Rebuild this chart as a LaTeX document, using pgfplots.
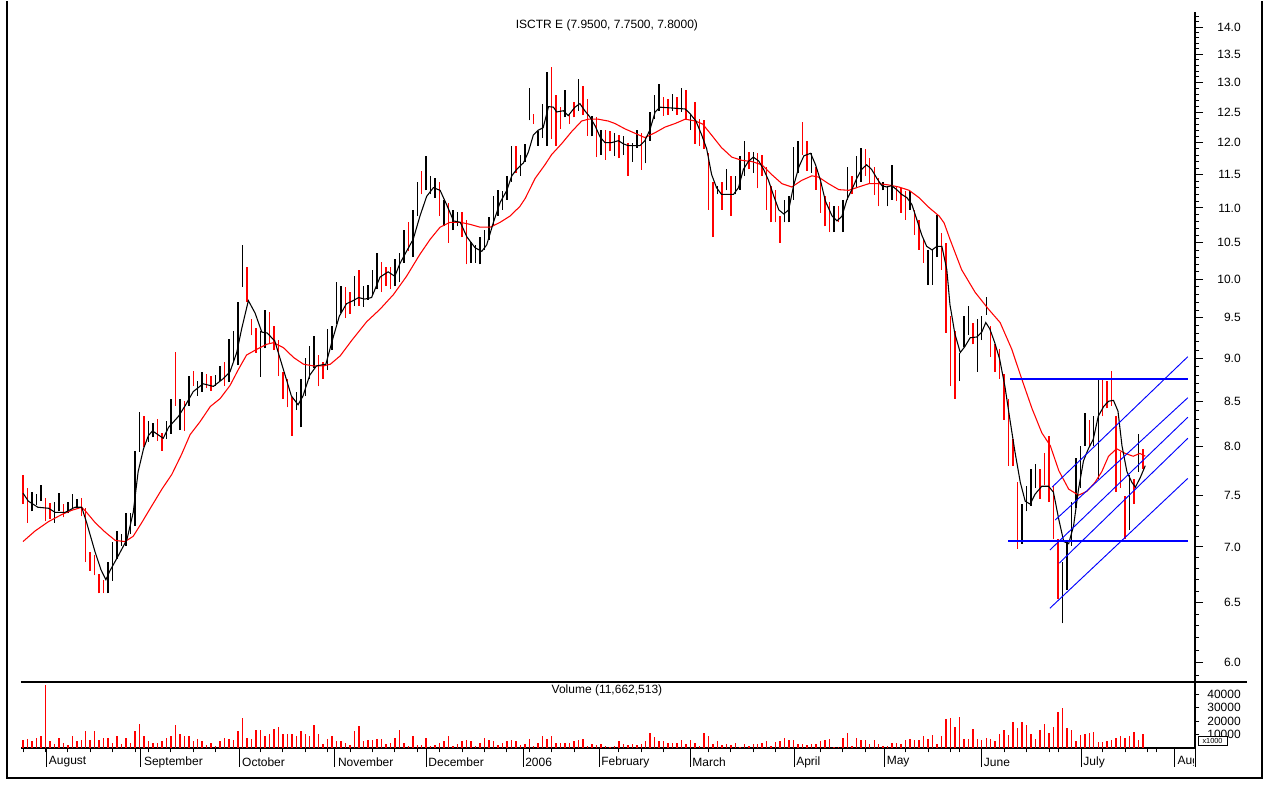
\documentclass[border=0pt]{standalone}
\usepackage{fontspec}
\setmainfont{Liberation Sans}
\usepackage{pgfplots}
\pgfplotsset{compat=1.18}
\usepackage{pgfplotstable}
\definecolor{tlblue}{RGB}{0,0,255}

\pgfplotstableread{
i lo hi c
0 7.41 7.71 1
1 7.23 7.57 1
2 7.34 7.53 0
3 7.40 7.51 0
4 7.44 7.60 0
5 7.25 7.47 1
6 7.27 7.42 1
7 7.23 7.43 0
8 7.34 7.52 0
9 7.28 7.41 1
10 7.32 7.43 0
11 7.37 7.51 0
12 7.38 7.46 0
13 7.29 7.47 1
14 6.86 7.37 1
15 6.78 6.95 1
16 6.74 6.92 1
17 6.58 6.75 1
18 6.58 6.70 1
19 6.58 6.86 0
20 6.69 7.05 0
21 6.89 7.15 0
22 7.01 7.12 0
23 7.01 7.32 0
24 7.12 7.32 0
25 7.20 7.96 0
26 7.95 8.38 0
27 8.00 8.33 1
28 8.05 8.28 0
29 8.10 8.26 0
30 8.06 8.30 1
31 7.96 8.15 1
32 8.08 8.28 0
33 8.14 8.53 0
34 8.45 9.08 1
35 8.18 8.53 0
36 8.17 8.50 1
37 8.45 8.79 0
38 8.67 8.85 1
39 8.56 8.73 0
40 8.61 8.84 0
41 8.65 8.81 1
42 8.62 8.79 1
43 8.68 8.80 0
44 8.73 8.91 0
45 8.68 8.96 1
46 8.72 9.24 0
47 8.96 9.34 0
48 8.92 9.70 0
49 9.90 10.47 0
50 9.70 10.17 1
51 9.28 9.49 1
52 9.07 9.37 1
53 8.78 9.33 0
54 9.12 9.60 0
55 9.18 9.57 1
56 9.10 9.40 1
57 8.79 9.22 1
58 8.53 8.84 1
59 8.43 8.76 1
60 8.12 8.55 1
61 8.40 8.60 0
62 8.21 8.76 0
63 8.56 9.00 0
64 8.76 9.15 0
65 8.88 9.27 0
66 8.67 9.04 1
67 8.76 8.96 1
68 8.86 9.36 0
69 9.10 9.40 0
70 9.42 9.97 0
71 9.56 9.91 0
72 9.50 9.90 1
73 9.55 9.83 1
74 9.65 10.04 0
75 9.65 10.13 1
76 9.64 9.91 0
77 9.73 9.92 0
78 9.78 10.13 0
79 9.87 10.36 0
80 9.83 10.24 1
81 9.91 10.17 1
82 9.87 10.17 1
83 9.91 10.27 0
84 9.96 10.36 0
85 10.22 10.68 0
86 10.38 10.79 1
87 10.30 10.97 0
88 10.88 11.39 0
89 11.20 11.56 1
90 11.26 11.79 0
91 11.20 11.48 0
92 11.15 11.45 0
93 10.88 11.39 1
94 10.73 11.12 0
95 10.50 11.07 1
96 10.68 10.97 0
97 10.73 10.94 0
98 10.58 10.94 1
99 10.20 10.83 1
100 10.22 10.51 0
101 10.22 10.47 0
102 10.20 10.58 0
103 10.40 10.68 0
104 10.54 10.87 0
105 10.73 11.17 0
106 10.88 11.27 0
107 10.97 11.25 0
108 11.12 11.48 0
109 11.39 11.95 0
110 11.53 11.95 1
111 11.48 11.81 0
112 11.70 11.98 0
113 12.36 12.90 0
114 12.30 12.47 1
115 11.95 12.19 0
116 12.07 12.63 0
117 11.95 13.18 0
118 12.06 13.27 1
119 11.95 12.78 1
120 12.22 12.58 1
121 12.41 12.87 0
122 12.30 12.47 1
123 12.41 12.66 1
124 12.52 13.06 0
125 12.45 12.94 1
126 12.11 12.72 1
127 12.10 12.44 0
128 11.77 12.41 1
129 11.81 12.20 0
130 11.73 12.20 1
131 11.86 12.19 1
132 11.79 12.15 0
133 11.75 12.12 1
134 11.80 12.10 0
135 11.48 12.00 1
136 11.70 12.00 0
137 11.92 12.20 0
138 11.57 12.15 1
139 11.67 12.08 0
140 12.03 12.50 0
141 12.38 12.78 0
142 12.52 12.97 0
143 12.44 12.75 1
144 12.45 12.72 1
145 12.52 12.80 0
146 12.45 12.75 1
147 12.50 12.90 0
148 12.38 12.87 1
149 12.20 12.47 0
150 11.98 12.66 1
151 11.95 12.38 1
152 11.90 12.36 1
153 10.97 11.83 1
154 10.58 11.39 1
155 11.20 11.33 0
156 10.97 11.39 1
157 11.26 11.58 0
158 10.88 11.48 1
159 11.20 11.48 0
160 11.27 11.79 0
161 11.48 12.03 0
162 11.58 11.85 1
163 11.53 11.85 0
164 11.29 11.83 1
165 11.48 11.81 1
166 10.97 11.62 1
167 10.79 11.33 1
168 10.79 11.26 1
169 10.50 10.88 1
170 10.79 11.12 0
171 10.79 11.17 0
172 11.12 11.93 0
173 11.53 12.03 0
174 11.81 12.33 1
175 11.56 12.03 1
176 11.53 11.83 0
177 11.27 11.62 1
178 10.93 11.39 1
179 10.73 11.17 1
180 10.65 11.08 1
181 10.65 11.02 0
182 10.79 11.02 1
183 10.65 11.12 0
184 11.12 11.62 0
185 11.20 11.48 1
186 11.29 11.79 0
187 11.39 11.92 0
188 11.48 11.90 1
189 11.36 11.75 1
190 11.19 11.61 1
191 11.02 11.44 1
192 11.26 11.39 0
193 11.02 11.33 0
194 11.12 11.65 0
195 11.10 11.33 1
196 10.93 11.29 1
197 10.83 11.25 1
198 10.97 11.25 0
199 10.61 10.97 1
200 10.40 10.83 1
201 10.22 10.55 1
202 9.93 10.40 0
203 9.93 10.40 0
204 10.30 10.90 0
205 10.13 10.64 1
206 9.31 10.50 1
207 8.67 9.52 1
208 8.53 9.33 1
209 8.73 9.07 0
210 9.14 9.52 0
211 9.29 9.65 0
212 9.17 9.43 1
213 8.84 9.49 0
214 9.22 9.52 0
215 9.54 9.77 0
216 9.02 9.40 1
217 8.84 9.17 1
218 8.76 9.11 1
219 8.29 8.82 1
220 7.80 8.53 1
221 7.80 8.08 1
222 6.98 7.63 1
223 7.03 7.41 0
224 7.34 7.59 0
225 7.39 7.77 0
226 7.57 7.82 0
227 7.46 7.77 1
228 7.60 7.93 1
229 7.43 8.12 1
230 7.07 7.59 1
231 6.53 7.07 1
232 6.32 6.86 0
233 6.61 7.05 0
234 7.01 7.43 0
235 7.37 7.88 0
236 7.57 8.01 0
237 8.01 8.37 0
238 8.01 8.29 1
239 8.01 8.33 0
240 7.66 8.75 0
241 8.33 8.75 1
242 8.42 8.73 1
243 8.45 8.85 1
244 7.53 8.33 1
245 7.57 7.95 1
246 7.07 7.49 1
247 7.16 7.70 0
248 7.41 7.66 1
249 7.74 8.14 0
250 7.77 7.98 1
}\bars

\pgfplotstableread{
i v
0 5750
1 6500
2 5000
3 7500
4 9250
5 46500
6 5000
7 3250
8 7500
9 4000
10 2000
11 8750
12 5000
13 5750
14 12500
15 5750
16 12500
17 5750
18 7500
19 7500
20 4000
21 8750
22 3250
23 7500
24 4000
25 12500
26 17750
27 9250
28 5000
29 4000
30 4000
31 5000
32 7500
33 9250
34 17000
35 10750
36 8750
37 8750
38 5000
39 6500
40 5000
41 2000
42 4000
43 1250
44 5000
45 7500
46 6500
47 5750
48 12500
49 22500
50 7500
51 6500
52 13250
53 13250
54 8750
55 10750
56 14250
57 15250
58 10750
59 10250
60 10750
61 8750
62 12500
63 10750
64 9250
65 17000
66 10750
67 3250
68 6500
69 9250
70 5000
71 5000
72 4000
73 2000
74 12500
75 16250
76 5000
77 5750
78 5750
79 6500
80 6500
81 3250
82 4000
83 7500
84 13250
85 4000
86 1500
87 9250
88 2000
89 2000
90 7500
91 1250
92 2000
93 4000
94 5000
95 8750
96 1250
97 2750
98 5000
99 5750
100 5000
101 1250
102 4000
103 7500
104 5750
105 5000
106 2000
107 4000
108 5000
109 5750
110 5000
111 2000
112 3250
113 6500
114 1250
115 4000
116 8750
117 6500
118 8750
119 4000
120 4000
121 4000
122 4000
123 5000
124 5750
125 6500
126 1250
127 3250
128 2000
129 2750
130 1250
131 750
132 1500
133 5000
134 2750
135 2000
136 3250
137 2500
138 2750
139 5000
140 11250
141 8250
142 5000
143 5000
144 4000
145 4000
146 4000
147 5750
148 3250
149 5750
150 4000
151 1250
152 11250
153 9250
154 3250
155 5000
156 2000
157 3250
158 2000
159 4000
160 1000
161 2750
162 1250
163 2750
164 2750
165 4000
166 5000
167 1250
168 4500
169 5000
170 7500
171 5750
172 5750
173 2750
174 3250
175 2000
176 2750
177 2750
178 5000
179 5750
180 7000
181 750
182 750
183 7500
184 11250
185 1250
186 7500
187 5750
188 5750
189 2750
190 5750
191 2750
192 1500
193 1250
194 4000
195 4000
196 2750
197 5750
198 6500
199 5750
200 5750
201 8750
202 7000
203 9500
204 3250
205 8750
206 21250
207 22500
208 15750
209 23250
210 7000
211 7000
212 13750
213 7000
214 5750
215 7500
216 7000
217 5000
218 10250
219 13250
220 9500
221 19000
222 15000
223 19000
224 17000
225 10750
226 7000
227 13250
228 17750
229 11500
230 15250
231 27000
232 29500
233 14500
234 13250
235 5000
236 9500
237 10750
238 11250
239 12000
240 4500
241 4500
242 5000
243 5750
244 7500
245 8750
246 7500
247 8750
248 12000
249 5750
250 10250
}\vol

\begin{document}
\begin{tikzpicture}
\begin{scope}[x=0.75pt,y=0.75pt]
\useasboundingbox (-21,-103) rectangle (1258,682);
\end{scope}

\begin{axis}[
  at={(0pt,0pt)}, anchor=south west, scale only axis,
  width=880.5pt, height=502.5pt,
  xmin=-0.45, xmax=261.6,
  ymode=log, ymin=5.846, ymax=14.283,
  axis x line=none, axis y line*=right,
  axis line style={-, line width=0.8pt, black},
  ytick={6,6.5,7,7.5,8,8.5,9,9.5,10,10.5,11,11.5,12,12.5,13,13.5,14},
  yticklabels={},
  minor ytick={5.9,6.1,6.2,6.3,6.4,6.6,6.7,6.8,6.9,7.1,7.2,7.3,7.4,7.6,7.7,7.8,7.9,8.1,8.2,8.3,8.4,8.6,8.7,8.8,8.9,9.1,9.2,9.3,9.4,9.6,9.7,9.8,9.9,10.1,10.2,10.3,10.4,10.6,10.7,10.8,10.9,11.1,11.2,11.3,11.4,11.6,11.7,11.8,11.9,12.1,12.2,12.3,12.4,12.6,12.7,12.8,12.9,13.1,13.2,13.3,13.4,13.6,13.7,13.8,13.9,14.1,14.2},
  tick align=outside, major tick length=6pt, minor tick length=3pt,
  tick style={black, line width=0.6pt},
  clip=false,
]
% up bars (black) and down bars (red)
\addplot[draw=none, mark=none, forget plot,
  error bars/.cd, y dir=plus, y explicit, error mark=none,
  error bar style={draw=black, line width=1.1pt}]
  table[x=i, y=lo, y error expr=\thisrow{hi}-\thisrow{lo},
        restrict expr to domain={\thisrow{c}}{0:0}] {\bars};
\addplot[draw=none, mark=none, forget plot,
  error bars/.cd, y dir=plus, y explicit, error mark=none,
  error bar style={draw=red, line width=1.1pt}]
  table[x=i, y=lo, y error expr=\thisrow{hi}-\thisrow{lo},
        restrict expr to domain={\thisrow{c}}{1:1}] {\bars};

% long moving average (red)
\addplot[red, line width=0.8pt, mark=none] coordinates {
(0,7.05)(2.7,7.15)(5.7,7.24)(8.7,7.31)(10.9,7.35)(13.1,7.38)(14.2,7.33)(16.1,7.23)(18.3,7.14)(20.6,7.06)(22.8,7.05)(24.6,7.10)(26.5,7.23)(28.7,7.39)(31.0,7.56)(33.2,7.71)(35.4,7.92)(37.3,8.13)(39.5,8.27)(41.8,8.44)(44.0,8.53)(46.2,8.68)(48.1,8.87)(49.9,9.04)(52.2,9.11)(54.4,9.17)(55.9,9.19)(58.1,9.13)(60.4,9.01)(62.6,8.93)(64.8,8.91)(67.1,8.91)(68.6,8.93)(70.8,9.03)(73.4,9.22)(76.7,9.45)(79.7,9.61)(82.7,9.80)(85.6,10.04)(88.6,10.34)(90.9,10.55)(93.1,10.72)(95.3,10.79)(97.6,10.79)(99.8,10.76)(102.0,10.72)(104.3,10.72)(106.5,10.79)(108.7,10.88)(110.9,11.02)(112.1,11.14)(114.3,11.44)(116.5,11.65)(118.0,11.81)(120.2,11.98)(122.5,12.18)(124.7,12.35)(126.2,12.38)(128.4,12.38)(130.6,12.35)(132.1,12.31)(134.4,12.22)(136.6,12.15)(138.8,12.08)(141.1,12.16)(143.3,12.25)(145.6,12.31)(147.8,12.38)(150.1,12.35)(151.7,12.30)(153.7,12.12)(155.9,11.92)(158.2,11.77)(160.4,11.72)(162.7,11.70)(164.9,11.65)(167.1,11.50)(169.4,11.36)(171.6,11.31)(173.8,11.41)(176.1,11.48)(177.6,11.46)(179.8,11.36)(182.1,11.27)(184.3,11.26)(186.5,11.31)(188.8,11.36)(191.0,11.36)(193.3,11.34)(195.5,11.31)(197.8,11.26)(200.0,11.15)(202.3,11.00)(204.5,10.88)(205.6,10.78)(206.9,10.55)(209.5,10.13)(212.5,9.83)(215.5,9.61)(218.1,9.44)(220.7,9.11)(222.9,8.76)(225.2,8.42)(227.4,8.15)(229.3,8.01)(231.2,7.75)(233.4,7.56)(235.6,7.50)(237.5,7.54)(239.3,7.63)(240.8,7.74)(242.3,7.90)(244.1,7.98)(246.0,7.93)(247.8,7.90)(249.3,7.93)(250.5,7.90)
};

% short moving average (black)
\addplot[black, line width=0.8pt, mark=none] coordinates {
(0,7.52)(1.2,7.44)(3.3,7.38)(5.7,7.37)(7.2,7.33)(9.4,7.33)(11.6,7.38)(13.1,7.38)(14.2,7.23)(16.1,6.95)(17.4,6.79)(18.5,6.70)(19.4,6.78)(21.3,6.92)(23.2,7.07)(24.6,7.33)(25.7,7.74)(26.9,7.98)(28.0,8.12)(28.9,8.17)(29.8,8.14)(31.3,8.09)(32.5,8.21)(34.7,8.33)(36.2,8.45)(38.0,8.61)(40.2,8.70)(42.5,8.67)(44.7,8.76)(46.2,8.84)(47.7,9.07)(48.8,9.36)(50.3,9.72)(51.8,9.56)(53.3,9.32)(54.5,9.31)(56.2,9.21)(58.1,8.87)(59.9,8.56)(61.4,8.46)(62.5,8.56)(64.0,8.80)(65.5,8.91)(67.6,8.93)(69.1,9.23)(70.6,9.52)(72.2,9.68)(73.7,9.72)(74.9,9.76)(76.3,9.74)(77.8,9.76)(79.7,10.03)(81.5,10.10)(83.0,10.04)(84.1,10.21)(85.6,10.38)(87.1,10.55)(88.6,10.88)(90.1,11.17)(91.6,11.30)(93.1,11.26)(94.6,11.04)(96.1,10.81)(97.6,10.79)(99.1,10.58)(100.9,10.43)(102.4,10.38)(103.5,10.47)(105.0,10.79)(106.5,11.08)(108.0,11.26)(109.1,11.48)(110.2,11.58)(111.7,11.68)(112.8,11.85)(113.9,12.12)(115.0,12.20)(116.1,12.24)(117.3,12.59)(118.4,12.58)(119.1,12.50)(120.6,12.52)(121.7,12.44)(123.2,12.58)(124.3,12.64)(125.4,12.52)(126.6,12.41)(127.7,12.27)(128.8,12.09)(129.9,12.00)(131.4,12.00)(132.9,12.03)(134.0,11.98)(135.1,11.95)(137.7,11.95)(138.8,12.03)(139.9,12.20)(141.1,12.50)(142.2,12.58)(147.8,12.55)(148.9,12.47)(150.2,12.35)(151.5,12.12)(152.6,11.90)(153.7,11.50)(154.8,11.30)(155.9,11.20)(158.6,11.20)(159.7,11.30)(160.8,11.58)(161.9,11.70)(163.0,11.77)(164.2,11.71)(165.3,11.58)(166.4,11.41)(167.6,11.17)(168.7,10.97)(169.8,10.91)(170.9,10.97)(172.0,11.33)(173.2,11.62)(174.3,11.79)(175.8,11.83)(176.9,11.65)(178.0,11.41)(179.1,11.10)(180.6,10.88)(181.7,10.81)(182.8,10.88)(183.9,11.12)(185.0,11.27)(186.1,11.44)(187.2,11.58)(188.3,11.65)(189.4,11.58)(190.6,11.44)(191.7,11.33)(192.8,11.31)(193.9,11.33)(195.0,11.27)(196.1,11.20)(197.3,11.15)(198.4,11.05)(199.5,10.83)(200.6,10.61)(201.7,10.45)(202.9,10.40)(204.0,10.45)(205.1,10.45)(206.2,10.13)(206.9,9.67)(208.0,9.30)(209.2,9.07)(210.2,9.14)(211.4,9.25)(212.9,9.26)(214.0,9.32)(214.9,9.44)(215.8,9.36)(216.9,9.19)(218.0,8.99)(219.2,8.66)(220.3,8.29)(221.4,7.95)(222.6,7.63)(223.7,7.44)(224.8,7.41)(225.9,7.51)(227.4,7.59)(228.9,7.59)(230.0,7.53)(231.2,7.26)(232.3,7.05)(233.4,7.03)(234.5,7.20)(235.6,7.56)(236.7,7.85)(237.8,7.98)(238.9,8.08)(240.0,8.33)(241.2,8.44)(242.3,8.50)(243.4,8.51)(244.4,8.39)(245.3,8.01)(246.4,7.74)(247.5,7.63)(248.3,7.58)(249.4,7.68)(250.5,7.80)
};

% trend lines (blue)
\addplot[draw=tlblue, line width=1pt, mark=none] coordinates {(220.3,8.755)(260.0,8.755)};
\addplot[draw=tlblue, line width=1pt, mark=none] coordinates {(219.9,7.055)(260.0,7.055)};
\addplot[draw=tlblue, line width=0.7pt, mark=none] coordinates {(229.7,7.58)(260.0,9.02)};
\addplot[draw=tlblue, line width=0.7pt, mark=none] coordinates {(230.4,7.255)(260.0,8.54)};
\addplot[draw=tlblue, line width=0.7pt, mark=none] coordinates {(229.2,6.97)(260.0,8.32)};
\addplot[draw=tlblue, line width=0.7pt, mark=none] coordinates {(231.3,6.85)(260.0,8.09)};
\addplot[draw=tlblue, line width=0.7pt, mark=none] coordinates {(229.2,6.45)(260.0,7.67)};

\node[font=\fontsize{9}{10}\selectfont] at (rel axis cs:0.4991,0.9806) {ISCTR E (7.9500, 7.7500, 7.8000)};
\end{axis}

\begin{axis}[
  at={(0pt,-49.5pt)}, anchor=south west, scale only axis,
  width=880.5pt, height=49.5pt,
  xmin=-0.45, xmax=261.6, ymin=0, ymax=49000,
  axis x line*=bottom, axis y line*=right,
  axis line style={-, line width=0.8pt, black},
  ytick={10000,20000,30000,40000}, yticklabels={}, scaled y ticks=false,
  xtick={0,5,10,15,20,25,28,33,38,43,53,58,63,68,73,78,83,88,93,98,103,108,113,118,123,133,138,143,153,158,163,168,178,183,188,197,202,207,209,219,224,229,231,241,246,251,253},
  xticklabels={}, scaled x ticks=false,
  extra x ticks={5.3,26.3,48.2,69.6,90.0,111.6,128.6,148.9,172.1,192.3,214.0,236.2,257.1},
  extra x tick labels={},
  extra x tick style={major tick length=14.25pt},
  tick align=outside, major tick length=3.3pt,
  tick style={black, line width=0.6pt},
  clip=false,
]
\addplot[ycomb, red, line width=1.1pt, mark=none] table[x=i, y=v] {\vol};
\node[font=\fontsize{9}{10}\selectfont] at (rel axis cs:0.4991,0.879) {Volume (11,662,513)};
\end{axis}

\begin{scope}[x=0.75pt,y=0.75pt, every node/.style={font=\fontsize{9}{10}\selectfont, inner sep=0pt}]
% price scale labels (right aligned)
\foreach \yy/\lab in {655/14.0,627.7/13.5,599.4/13.0,570.0/12.5,539.4/12.0,507.5/11.5,474.1/11.0,439.2/10.5,402.6/10.0,364.2/9.5,323.6/9.0,280.8/8.5,235.3/8.0,186.9/7.5,135.1/7.0,79.6/6.5,19.5/6.0}
  \node[anchor=east] at (1220,\yy) {\lab};
% volume scale labels
\foreach \yy/\lab in {-12/40000,-25.6/30000,-39.1/20000,-52.5/10000}
  \node[anchor=east] at (1220,\yy) {\lab};
% month labels
\node[anchor=west] at (27.7,-80) {August};
\node[anchor=west] at (122.8,-80) {September};
\node[anchor=west] at (220.9,-80) {October};
\node[anchor=west] at (316.8,-80) {November};
\node[anchor=west] at (407.2,-80) {December};
\node[anchor=west] at (504.0,-80) {2006};
\node[anchor=west] at (580.1,-80) {February};
\node[anchor=west] at (671.1,-80) {March};
\node[anchor=west] at (775.0,-80) {April};
\node[anchor=west] at (865.5,-80) {May};
\node[anchor=west] at (962.7,-80) {June};
\node[anchor=west] at (1062.2,-80) {July};
\begin{scope}
\clip (1150,-95) rectangle (1172,-70);
\node[anchor=west] at (1156.3,-80) {Aug};
\end{scope}
% panel separator, axis extension, frame
\draw[line width=1.2pt] (0,0) -- (1226,0);
\draw[line width=0.6pt] (1174,-66) -- (1174,-85);
\node[draw, fill=white, line width=0.4pt, inner sep=0.8pt, anchor=center, font=\fontsize{5.5}{6}\selectfont, minimum width=22pt, minimum height=7pt] at (1191.5,-58.5) {x1000};
\draw[line width=1.6pt] (-14,680.5) -- (-14,-96) -- (1241,-96) -- (1241,680.5);
\end{scope}
\end{tikzpicture}
\end{document}
